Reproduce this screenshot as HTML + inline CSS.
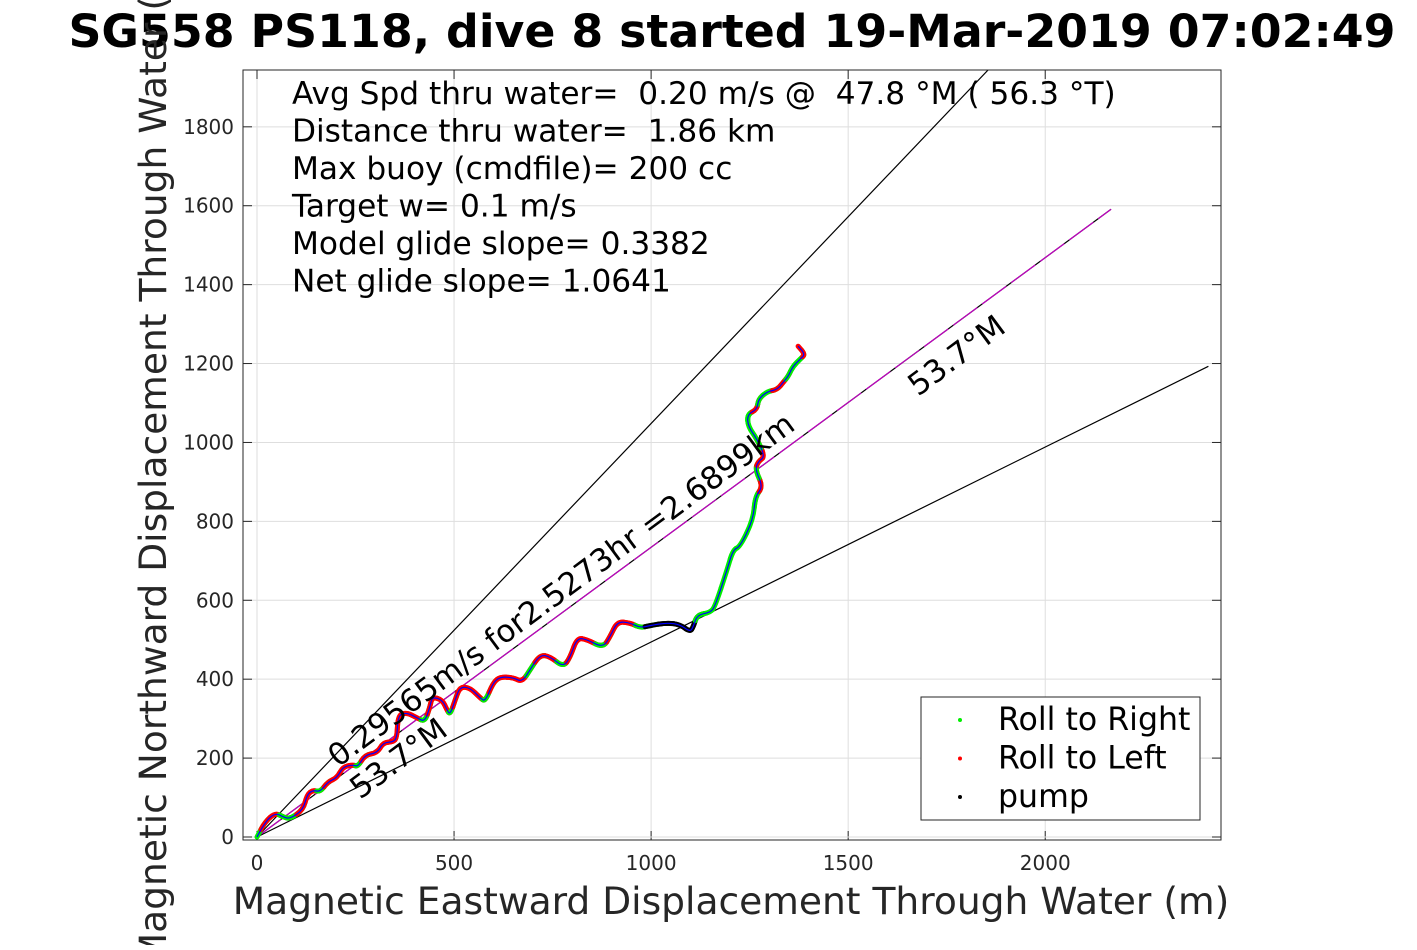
<!DOCTYPE html>
<html><head><meta charset="utf-8"><style>
body{margin:0;background:#fff;}
svg text{font-family:"DejaVu Sans","Liberation Sans",sans-serif;white-space:pre;}
</style></head><body>
<svg id="c" width="1417" height="945" xmlns="http://www.w3.org/2000/svg"></svg>
<script>
const xTicks=[0,500,1000,1500,2000];
const yTicks=[0,200,400,600,800,1000,1200,1400,1600,1800];
const trackX=[0,20,46,66,84,117,127,142,160,180,203,218,244,256,274,305,320,345,355,358,381,406,426,439,444,470,482,490,503,515,541,566,579,599,617,650,673,693,718,744,777,794,812,838,878,896,914,947,972,997,1041,1074,1099,1107,1117,1150,1162,1193,1208,1226,1259,1264,1284,1264,1272,1289,1269,1246,1244,1269,1272,1294,1320,1335,1348,1360,1378,1391,1373];
const trackY=[0,38,61,51,46,69,107,119,114,140,150,178,183,178,208,213,239,241,251,310,315,302,292,330,355,348,322,310,348,381,378,353,343,391,406,404,393,424,462,457,431,454,505,500,480,508,546,543,530,536,543,538,520,533,563,569,584,678,728,736,805,863,888,931,952,964,1008,1041,1071,1084,1109,1129,1134,1152,1168,1193,1211,1223,1244];
const trackRoll=['G','R','R','G','G','R','R','R','G','R','R','R','R','G','R','R','R','R','R','R','R','R','G','R','R','R','R','G','R','R','R','R','G','R','R','R','R','G','R','R','G','R','R','R','G','R','R','R','G','P','P','P','P','P','G','G','N','G','G','N','G','G','R','G','R','R','G','G','G','R','G','G','R','R','G','G','G','R','G'];
const refEndX=[1855,2414,2167];
const refEndY=[1944,1193,1591];
const xmin=-35.5,xmax=2446,ymin=-7.6,ymax=1944;
const L=243,R=1221,T=70,B=840;
const sx=v=>L+(v-xmin)/(xmax-xmin)*(R-L);
const sy=v=>B-(v-ymin)/(ymax-ymin)*(B-T);
const svg=document.getElementById('c');
const NS='http://www.w3.org/2000/svg';
function mk(tag,attrs,parent){const e=document.createElementNS(NS,tag);for(const k in attrs)e.setAttribute(k,attrs[k]);(parent||svg).appendChild(e);return e;}
xTicks.forEach(t=>{const l=mk('line',{x1:sx(t),x2:sx(t),y1:T,y2:B,stroke:'#dedede','stroke-width':1});


const tx=mk('text',{x:sx(t),y:870,'font-size':20,fill:'#262626','text-anchor':'middle'});tx.textContent=t;


mk('line',{x1:sx(t),x2:sx(t),y1:B,y2:B-9,stroke:'#262626'});mk('line',{x1:sx(t),x2:sx(t),y1:T,y2:T+9,stroke:'#262626'});});
yTicks.forEach(t=>{const l=mk('line',{x1:L,x2:R,y1:sy(t),y2:sy(t),stroke:'#dedede','stroke-width':1});


const tx=mk('text',{x:234,y:sy(t)+7,'font-size':20,fill:'#262626','text-anchor':'end'});tx.textContent=t;


mk('line',{x1:L,x2:L+9,y1:sy(t),y2:sy(t),stroke:'#262626'});mk('line',{x1:R,x2:R-9,y1:sy(t),y2:sy(t),stroke:'#262626'});});
const defs=mk('defs',{});const cp=mk('clipPath',{id:'pc'},defs);mk('rect',{x:L,y:T,width:R-L,height:B-T},cp);
const g=mk('g',{'clip-path':'url(#pc)'});


refEndX.forEach((x,i)=>{const l=mk('line',{x1:sx(0),y1:sy(0),x2:sx(x),y2:sy(refEndY[i]),stroke:'#000','stroke-width':1.2},g);

});
const mg=mk('line',{x1:sx(0),y1:sy(0),x2:sx(refEndX[2]),y2:sy(refEndY[2]),stroke:'#c000c0','stroke-width':1.2,'stroke-dasharray':'30 6'},g);


const P=trackX.map((x,i)=>[sx(x),sy(trackY[i])]);
const mid=(a,b)=>[(a[0]+b[0])/2,(a[1]+b[1])/2];
function segPath(i){
 const a=i>0?mid(P[i-1],P[i]):P[i];
 const b=mid(P[i],P[i+1]);
 const c=i+2<P.length?mid(P[i+1],P[i+2]):P[i+1];
 return 'M'+a[0].toFixed(1)+' '+a[1].toFixed(1)+'Q'+P[i][0].toFixed(1)+' '+P[i][1].toFixed(1)+' '+b[0].toFixed(1)+' '+b[1].toFixed(1)+'Q'+P[i+1][0].toFixed(1)+' '+P[i+1][1].toFixed(1)+' '+c[0].toFixed(1)+' '+c[1].toFixed(1);
}
const col={G:'#00ee00',R:'#ff0000',P:'#000000',N:'none'};
for(let i=0;i<P.length-1;i++){
 const c=col[trackRoll[i]];if(c==='none')continue;
 const s=mk('path',{d:segPath(i),fill:'none',stroke:c,'stroke-width':5,'stroke-linecap':'round'},g);
 
 
}
let d='M'+P[0][0]+' '+P[0][1];
for(let i=1;i<P.length-1;i++){const m=mid(P[i],P[i+1]);d+='Q'+P[i][0].toFixed(1)+' '+P[i][1].toFixed(1)+' '+m[0].toFixed(1)+' '+m[1].toFixed(1);}
d+='L'+P[P.length-1][0]+' '+P[P.length-1][1];
const tp=mk('path',{d:d,fill:'none',stroke:'#0000ff','stroke-width':1.2,'stroke-linejoin':'round'},g);


mk('rect',{x:L,y:T,width:R-L,height:B-T,fill:'none',stroke:'#262626','stroke-width':1});
function txt(x,y,s,size,attrs,name){const t=mk('text',Object.assign({x:x,y:y,'font-size':size,fill:'#000'},attrs||{}));t.textContent=s;

return t;}
txt(732,47,'SG558 PS118, dive 8 started 19-Mar-2019 07:02:49',45.8,{'text-anchor':'middle','font-weight':'bold'},'chart-title');
txt(731,914,'Magnetic Eastward Displacement Through Water (m)',37.6,{'text-anchor':'middle',fill:'#262626'},'x-axis-title');
txt(0,0,'Magnetic Northward Displacement Through Water (m)',37.6,{'text-anchor':'middle',fill:'#262626',transform:'translate(166,455) rotate(-90)'},'y-axis-title');
const info=['Avg Spd thru water=  0.20 m/s @  47.8 °M ( 56.3 °T)','Distance thru water=  1.86 km','Max buoy (cmdfile)= 200 cc','Target w= 0.1 m/s','Model glide slope= 0.3382','Net glide slope= 1.0641'];
info.forEach((s,i)=>txt(292,104+i*37.5,s,31.2,{},'info-line'));
txt(0,0,'0.29565m/s for2.5273hr =2.6899km',31,{transform:'translate(338,768) rotate(-36.5)'},'distance-annotation');
txt(0,0,'53.7°M',31,{transform:'translate(918,397) rotate(-36.5)'},'heading-annotation');
txt(0,0,'53.7°M',31,{transform:'translate(360,800) rotate(-36.5)'},'heading-annotation');
const lg=mk('g',{});


mk('rect',{x:921,y:697,width:279,height:123,fill:'#fff',stroke:'#262626'},lg);
[['Roll to Right','#00ee00'],['Roll to Left','#ff0000'],['pump','#000']].forEach((e,i)=>{
 const y=720+i*38.5;
 const c=mk('circle',{cx:960,cy:y,r:2,fill:e[1]},lg);
 
 
 const t=mk('text',{x:998,y:y+10,'font-size':31.6,fill:'#000'},lg);t.textContent=e[0];
 
 
});
</script>
</body></html>
